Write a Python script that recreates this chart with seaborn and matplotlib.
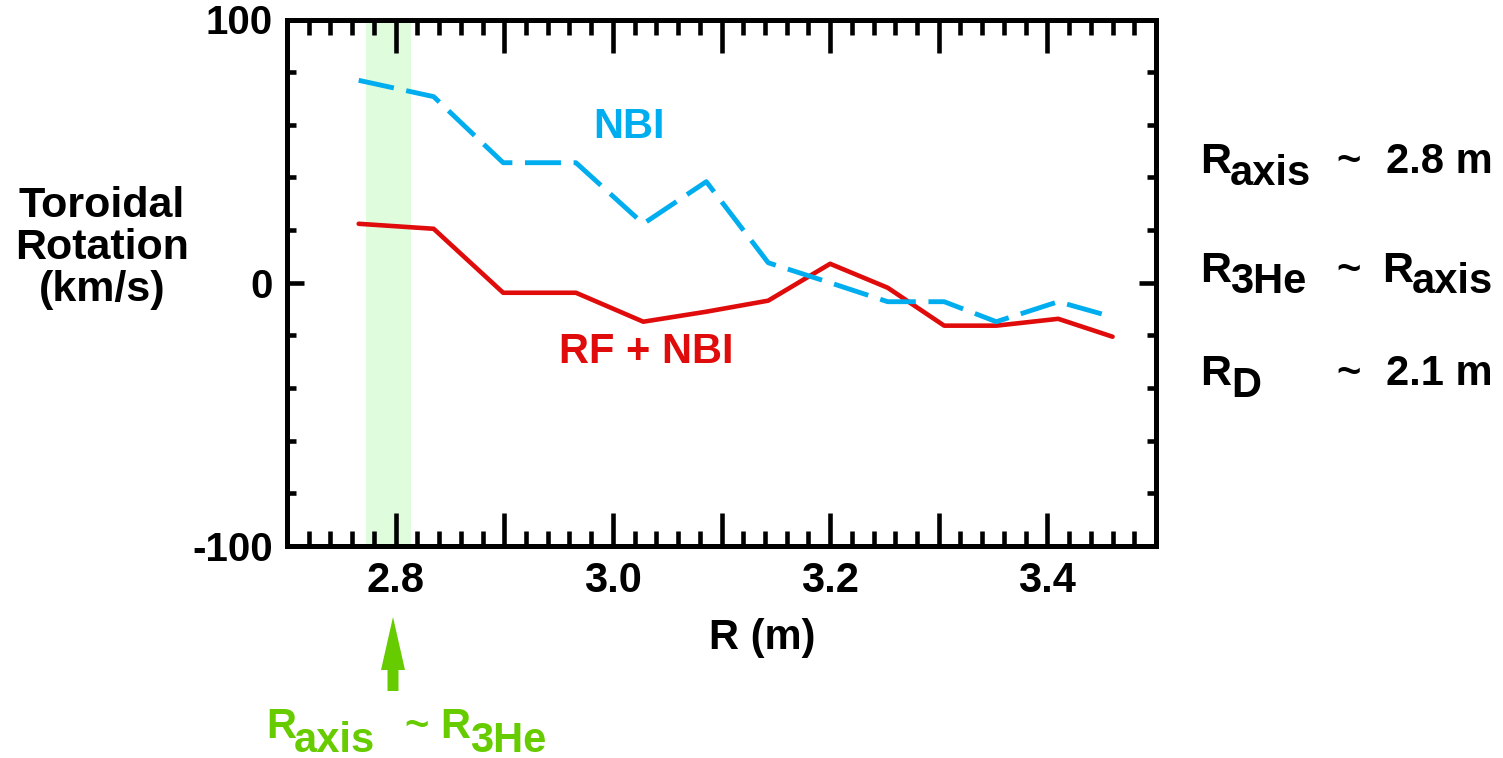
import matplotlib
matplotlib.use('Agg')
import matplotlib.pyplot as plt
from matplotlib.patches import FancyArrow
from matplotlib.ticker import FixedLocator, MultipleLocator
import seaborn as sns

# radius (m) and toroidal rotation (km/s)
radius = [2.766, 2.835, 2.899, 2.966, 3.028, 3.086, 3.143, 3.200, 3.253, 3.305, 3.353, 3.410, 3.460]
nbi = [76.9, 70.7, 45.6, 45.6, 22.4, 38.4, 7.6, 0.0, -7.2, -7.2, -14.8, -7.2, -13.0]
rf_nbi = [22.4, 20.5, -3.8, -3.8, -14.8, -11.0, -6.8, 7.2, -1.9, -16.3, -16.3, -13.7, -20.5]

x_ticks = [2.8, 2.9, 3.0, 3.1, 3.2, 3.3, 3.4]
x_tick_labels = ['2.8', '', '3.0', '', '3.2', '', '3.4']
y_ticks = [-100, 0, 100]
y_tick_labels = ['-100', '0', '100']
band = [2.773, 2.814]

sns.set_theme(style='white')
plt.rcParams['font.family'] = ['Liberation Sans', 'DejaVu Sans']
plt.rcParams['font.weight'] = 'bold'
plt.rcParams.update({'text.color': 'black', 'axes.labelcolor': 'black',
                     'xtick.color': 'black', 'ytick.color': 'black'})

W, H = 1503, 758
fig = plt.figure(figsize=(W / 100, H / 100), dpi=100)
ax = fig.add_axes([287 / W, 1 - 546 / H, 869 / W, 526.5 / H])

blue = '#00aeef'
red = '#e00b0b'
green = '#66cc00'

ax.axvspan(band[0], band[1], color='#dffcdd', lw=0, zorder=0)
sns.lineplot(x=radius, y=nbi, ax=ax, color=blue, lw=3.5, sort=False,
             linestyle=(0, (7.4, 2.6)), zorder=3)
sns.lineplot(x=radius, y=rf_nbi, ax=ax, color=red, lw=3.3, sort=False, zorder=2)

ax.set_xlim(2.7, 3.5)
ax.set_ylim(-100, 100)
ax.xaxis.set_major_locator(FixedLocator(x_ticks))
ax.set_xticklabels(x_tick_labels)
ax.xaxis.set_minor_locator(MultipleLocator(0.02))
ax.yaxis.set_major_locator(FixedLocator(y_ticks))
ax.set_yticklabels(y_tick_labels)
ax.yaxis.set_minor_locator(MultipleLocator(20))

for s in ax.spines.values():
    s.set_linewidth(3.6)
    s.set_color('black')
ax.tick_params(axis='x', which='major', direction='in', length=24, width=3.3,
               top=True, bottom=True, labelsize=30, pad=11, color='black')
ax.tick_params(axis='x', which='minor', direction='in', length=10.5, width=3.3,
               top=True, bottom=True, color='black')
ax.tick_params(axis='y', which='major', direction='in', length=12, width=3.3,
               left=True, right=True, labelsize=29, pad=10, color='black')
ax.tick_params(axis='y', which='minor', direction='in', length=6.5, width=3.3,
               left=True, right=True, color='black')
for lab in ax.get_xticklabels() + ax.get_yticklabels():
    lab.set_fontweight('bold')
    lab.set_color('black')

ax.set_xlabel('R (m)', fontsize=30, fontweight='bold', va='center', color='black')
ax.xaxis.set_label_coords(0.547, -0.174)
ax.set_ylabel('Toroidal\nRotation\n(km/s)', fontsize=31, fontweight='bold', color='black',
              rotation=0, ha='center', va='center', linespacing=1.05)
ax.yaxis.set_label_coords(-0.213, 0.566)

ax.text(2.982, 55, 'NBI', color=blue, fontsize=30, fontweight='bold', va='baseline')
ax.text(2.950, -30.4, 'RF + NBI', color=red, fontsize=30, fontweight='bold', va='baseline')


def put(px, py, s, size=30, color='black'):
    fig.text(px / W, 1 - py / H, s, fontsize=size, fontweight='bold',
             color=color, ha='left', va='baseline')


# right-hand notes
put(1200, 173, 'R', 31)
put(1230, 185, 'axis', 30)
put(1336, 173, '~', 30)
put(1386, 173, '2.8 m', 30)
put(1200, 282, 'R', 31)
put(1230, 293, '3He', 30)
put(1336, 282, '~', 30)
put(1382, 282, 'R', 31)
put(1412, 293, 'axis', 30)
put(1200, 385, 'R', 31)
put(1231, 397, 'D', 30)
put(1336, 385, '~', 30)
put(1386, 385, '2.1 m', 30)

# green marker below the axis
fig.patches.append(FancyArrow(393 / W, 1 - 691 / H, 0, 74 / H, width=11 / W,
                              head_width=24 / W, head_length=53 / H,
                              length_includes_head=True, color=green, lw=0,
                              transform=fig.transFigure, figure=fig))
put(266, 738, 'R', 30, green)
put(294, 752, 'axis', 30, green)
put(404, 738, '~', 30, green)
put(440, 738, 'R', 30, green)
put(470, 752, '3He', 30, green)

fig.savefig('out.png', dpi=100)
